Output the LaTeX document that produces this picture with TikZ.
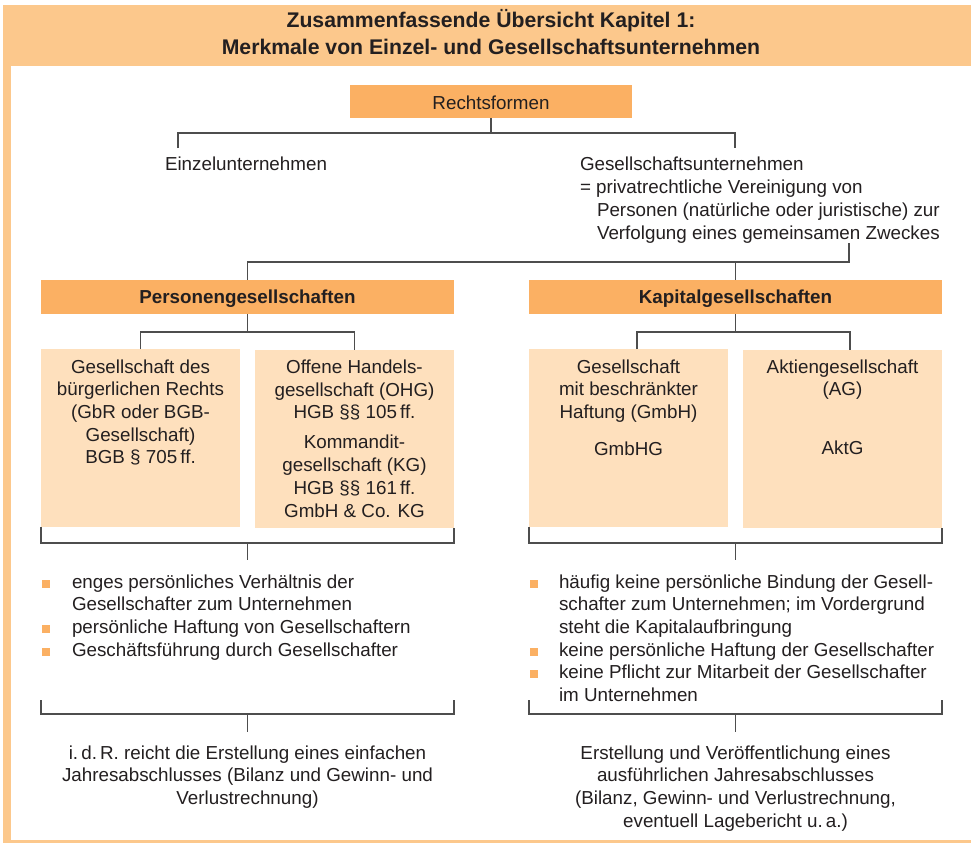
\documentclass[tikz,border=0pt]{standalone}
\usepackage{fontspec}
\setmainfont{Liberation Sans}
\definecolor{frameor}{HTML}{FCC88C}
\definecolor{darkor}{HTML}{FBB063}
\definecolor{lightor}{HTML}{FEE0BD}
\definecolor{txt}{HTML}{231F20}
\definecolor{lncol}{HTML}{4D4D4D}
\newcommand{\fstrut}{\rule{0pt}{17bp}}
\begin{document}
\begin{tikzpicture}[x=1bp,y=-1bp,
  every node/.style={inner sep=0pt,outer sep=0pt,text=txt},
  body/.style={font=\fontsize{18.8bp}{22.7bp}\selectfont},
  conn/.style={draw=lncol,line width=1.3bp},
  hdbox/.style={fill=darkor,minimum width=413bp,minimum height=34bp,text height=15bp,text depth=2.5bp,font=\fontsize{18.8bp}{22.7bp}\selectfont\bfseries},
  lbox/.style={fill=lightor,minimum width=199bp,minimum height=178bp},
  bul/.style={fill=darkor,minimum size=8bp}]
\useasboundingbox (0,0) rectangle (971,843);
\fill[white] (0,0) rectangle (971,843);
\fill[frameor] (3,60) rectangle (11,843);
\fill[frameor] (3,839.5) rectangle (971,843);
\node[fill=frameor,minimum width=968bp,minimum height=61bp] (band) at (487,35.5) {};
\node[anchor=north,align=center,font=\fontsize{21.2bp}{26.6bp}\selectfont\bfseries] (title) at (491,7.7)
  {\rule{0pt}{20bp}Zusammenfassende Übersicht Kapitel 1:\\Merkmale von Einzel- und Gesellschaftsunternehmen};

% Rechtsformen
\node[fill=darkor,minimum width=282bp,minimum height=33bp,text height=15bp,text depth=0bp,body] (rf) at (491,101.5) {Rechtsformen};
\node[body,anchor=base west] (eu) at (165,170.5) {Einzelunternehmen};
\node[anchor=north west,align=left,font=\fontsize{18.8bp}{23bp}\selectfont] (gu) at (580,153.5)
  {\fstrut Gesellschaftsunternehmen\\= privatrechtliche Vereinigung von\\\hspace*{17bp}Personen (natürliche oder juristische) zur\\\hspace*{17bp}Verfolgung eines gemeinsamen Zweckes};
\coordinate (j1) at (491,133);
\coordinate (eutop) at (178,148);
\coordinate (gutop) at (735,148);
\draw[conn] (rf) -- (j1);
\draw[conn] (eutop) |- (j1) -| (gutop);

% second level
\node[hdbox] (pg) at (247.5,297) {Personengesellschaften};
\node[hdbox] (kg) at (735.5,297) {Kapitalgesellschaften};
\coordinate (guend) at (849,243);
\coordinate (j2) at (849,262);
\draw[conn] (guend) -- (j2) -| (pg.north);
\draw[conn] (kg.north |- j2) -- (kg.north);

% boxes
\node[lbox] (gbr) at (140.5,438) {};
\node[lbox] (ohg) at (354.5,439) {};
\node[lbox] (gmbh) at (628.5,438) {};
\node[lbox] (ag) at (842.5,439) {};
\node[body,anchor=north,align=center] (gbrt) at (140.5,356)
  {\fstrut Gesellschaft des\\bürgerlichen Rechts\\(GbR oder BGB-\\Gesellschaft)\\BGB § 705\,ff.};
\node[body,anchor=north,align=center] (ohgt) at (354.5,356.5)
  {\fstrut Offene Handels-\\gesellschaft (OHG)\\HGB §§ 105\,ff.\\[7.3bp]Kommandit-\\gesellschaft (KG)\\HGB §§ 161\,ff.\\GmbH \& Co. KG};
\node[body,anchor=north,align=center] (gmbht) at (628.5,356)
  {\fstrut Gesellschaft\\mit beschränkter\\Haftung (GmbH)\\[14bp]GmbHG};
\node[body,anchor=north,align=center] (agt) at (842.5,356)
  {\fstrut Aktiengesellschaft\\(AG)\\[36bp]AktG};

\coordinate (j3) at (247.5,332);
\draw[conn] (pg) -- (j3);
\draw[conn] (gbr.north) |- (j3) -| (ohg.north);
\coordinate (j4) at (735.5,332);
\coordinate (gmbhtop) at (637,349);
\coordinate (agtop) at (850,350);
\draw[conn] (kg) -- (j4);
\draw[conn] (gmbhtop) |- (j4) -| (agtop);

% brackets 1
\coordinate (b1) at (247.5,543);
\coordinate (s1) at (247.5,560);
\draw[conn] (gbr.south west) |- (b1) -| (ohg.south east);
\draw[conn] (b1) -- (s1);
\coordinate (b2) at (735.5,543);
\coordinate (s2) at (735.5,560);
\draw[conn] (gmbh.south west) |- (b2) -| (ag.south east);
\draw[conn] (b2) -- (s2);

% bullets left
\node[bul] (lb1) at (46,583.5) {};
\node[bul] (lb2) at (46,628.5) {};
\node[bul] (lb3) at (46,651.5) {};
\node[body,anchor=north west,align=left] (li1) at (72,571)
  {\fstrut enges persönliches Verhältnis der\\Gesellschafter zum Unternehmen};
\node[body,anchor=base west] (li2) at (72,633) {persönliche Haftung von Gesellschaftern};
\node[body,anchor=base west] (li3) at (72,656) {Geschäftsführung durch Gesellschafter};

% bullets right
\node[bul] (rb1) at (534,583.5) {};
\node[bul] (rb2) at (534,651.5) {};
\node[bul] (rb3) at (534,674) {};
\node[body,anchor=north west,align=left] (ri1) at (559,571)
  {\fstrut häufig keine persönliche Bindung der Gesell-\\schafter zum Unternehmen; im Vordergrund\\steht die Kapitalaufbringung};
\node[body,anchor=base west] (ri2) at (559,656) {keine persönliche Haftung der Gesellschafter};
\node[body,anchor=north west,align=left] (ri3) at (559,661.5)
  {\fstrut keine Pflicht zur Mitarbeit der Gesellschafter\\im Unternehmen};

% brackets 2
\coordinate (l2a) at (41,700);
\coordinate (l2b) at (454,700);
\coordinate (b3) at (247.5,714);
\coordinate (s3) at (247.5,732);
\draw[conn] (l2a) |- (b3) -| (l2b);
\draw[conn] (b3) -- (s3);
\coordinate (r2a) at (529,700);
\coordinate (r2b) at (942,700);
\coordinate (b4) at (735.5,714);
\coordinate (s4) at (735.5,732);
\draw[conn] (r2a) |- (b4) -| (r2b);
\draw[conn] (b4) -- (s4);

% bottom texts
\node[body,anchor=north,align=center] (lres) at (247.5,742)
  {\fstrut i.\,d.\,R. reicht die Erstellung eines einfachen\\Jahresabschlusses (Bilanz und Gewinn- und\\Verlustrechnung)};
\node[body,anchor=north,align=center] (rres) at (735.5,742)
  {\fstrut Erstellung und Veröffentlichung eines\\ausführlichen Jahresabschlusses\\(Bilanz, Gewinn- und Verlustrechnung,\\eventuell Lagebericht u.\,a.)};
\end{tikzpicture}
\end{document}
